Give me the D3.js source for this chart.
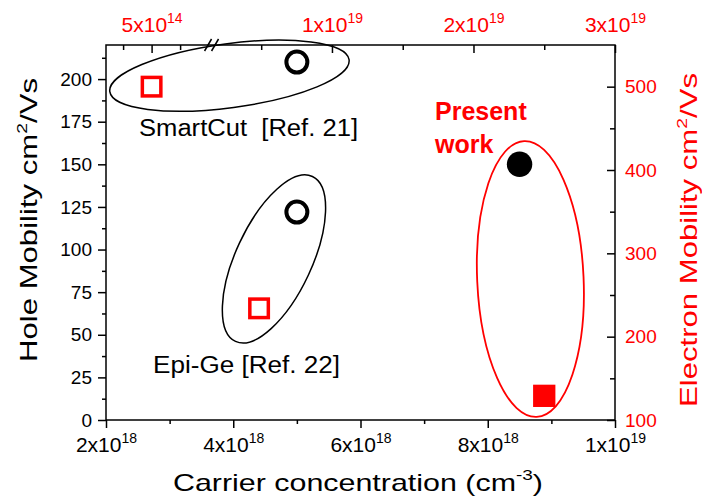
<!DOCTYPE html>
<html>
<head>
<meta charset="utf-8">
<script src="https://cdn.jsdelivr.net/npm/d3@7"></script>
<style>
  body { margin: 0; background: #fff; }
  text { font-family: Arial, "Liberation Sans", sans-serif; }
</style>
</head>
<body>
<script>
// hole data (bottom / left axes), electron data (top / right axes)
var groups = ['SmartCut', 'Epi-Ge', 'Present work'];
var holeConc = [5e18, 5e18, 8.5e18];
var holeMob = [210, 122, 150];
var elecConc = [5e14, 4.85e18, 2.5e19];
var elecMob = [500, 234, 129];
var filled = [false, false, true];

var bottomTicks = [2e18, 4e18, 6e18, 8e18, 1e19];
var bottomMinor = [3e18, 5e18, 7e18, 9e18];
var bottomLabels = [['2x10', '18'], ['4x10', '18'], ['6x10', '18'], ['8x10', '18'], ['1x10', '19']];
var topTicks = [5e14, 1e19, 2e19, 3e19];
var topMinor = [2.5e14, 7.5e14, 5e18, 1.5e19, 2.5e19];
var topLabels = [['5x10', '14'], ['1x10', '19'], ['2x10', '19'], ['3x10', '19']];
var leftTicks = [0, 25, 50, 75, 100, 125, 150, 175, 200];
var leftMinor = [12.5, 37.5, 62.5, 87.5, 112.5, 137.5, 162.5, 187.5, 212.5];
var rightTicks = [100, 200, 300, 400, 500];
var rightMinor = [150, 250, 350, 450];

// group ellipses, centre in bottom/left data units
var ellX = [3.94e18, 4.64e18, 8.67e18];
var ellY = [202, 94.5, 82.7];

var width = 702, height = 503;
var pL = 106, pR = 615, pT = 45, pB = 420;
var red = '#ff0000';

var svg = d3.select('body').append('svg')
    .attr('width', width)
    .attr('height', height);

var x = d3.scaleLinear().domain([2e18, 1e19]).range([pL, pR]);
// broken top axis: a short low-concentration part, then linear to 3x10^19
var xTop = d3.scaleLinear().domain([1e14, 1e15, 1.7e18, 3e19]).range([pL, 208.6, 214.5, pR]);
var yL = d3.scaleLinear().domain([0, 220]).range([pB, pT]);
var yR = d3.scaleLinear().domain([100, 550]).range([pB, pT]);

// frame
svg.append('rect')
    .attr('x', pL).attr('y', pT)
    .attr('width', pR - pL).attr('height', pB - pT)
    .attr('fill', 'none').attr('stroke', '#000').attr('stroke-width', 1.5);

function styleAxis(g) {
    g.select('.domain').remove();
    g.selectAll('.tick line').attr('stroke', '#000').attr('stroke-width', 1.5);
    g.attr('font-family', 'Arial, "Liberation Sans", sans-serif');
}

function supLabels(g, labels, color) {
    g.selectAll('.tick text').each(function (d, i) {
        var t = d3.select(this);
        t.text(labels[i][0]).attr('fill', color).attr('font-size', 21);
        t.append('tspan').attr('dy', -9).attr('font-size', 14).text(labels[i][1]);
    });
}

// bottom axis
var gB = svg.append('g').attr('transform', 'translate(0,' + pB + ')');
gB.call(d3.axisBottom(x).tickValues(bottomMinor).tickSize(4).tickFormat(''));
gB.call(styleAxis);
var gB2 = svg.append('g').attr('transform', 'translate(0,' + pB + ')');
gB2.call(d3.axisBottom(x).tickValues(bottomTicks).tickSize(8).tickSizeOuter(0).tickFormat(function () { return 'x'; }));
gB2.call(styleAxis);
gB2.selectAll('.tick text').attr('y', 32).attr('dy', 0);
supLabels(gB2, bottomLabels, '#000');

// top axis, ticks inward
var gT = svg.append('g').attr('transform', 'translate(0,' + pT + ')');
gT.call(d3.axisTop(xTop).tickValues(topMinor).tickSize(-5).tickFormat(''));
gT.call(styleAxis);
var gT2 = svg.append('g').attr('transform', 'translate(0,' + pT + ')');
gT2.call(d3.axisTop(xTop).tickValues(topTicks).tickSize(-8).tickFormat(function () { return 'x'; }));
gT2.call(styleAxis);
gT2.selectAll('.tick text').attr('y', -13).attr('dy', 0);
supLabels(gT2, topLabels, red);

// axis break marks
var bx = (xTop(1e15) + xTop(1.7e18)) / 2;
[-3.5, 3.5].forEach(function (o) {
    svg.append('line')
        .attr('x1', bx + o - 3.5).attr('y1', pT + 6)
        .attr('x2', bx + o + 3.5).attr('y2', pT - 6)
        .attr('stroke', '#000').attr('stroke-width', 1.5);
});

// left axis
var gL = svg.append('g').attr('transform', 'translate(' + pL + ',0)');
gL.call(d3.axisLeft(yL).tickValues(leftMinor).tickSize(4).tickFormat(''));
gL.call(styleAxis);
var gL2 = svg.append('g').attr('transform', 'translate(' + pL + ',0)');
gL2.call(d3.axisLeft(yL).tickValues(leftTicks).tickSize(8).tickPadding(6).tickFormat(d3.format('d')));
gL2.call(styleAxis);
gL2.selectAll('.tick text').attr('font-size', 19).attr('fill', '#000');

// right axis, ticks inward
var gR = svg.append('g').attr('transform', 'translate(' + pR + ',0)');
gR.call(d3.axisRight(yR).tickValues(rightMinor).tickSize(-5).tickFormat(''));
gR.call(styleAxis);
var gR2 = svg.append('g').attr('transform', 'translate(' + pR + ',0)');
gR2.call(d3.axisRight(yR).tickValues(rightTicks).tickSize(-8).tickPadding(10).tickFormat(d3.format('d')));
gR2.call(styleAxis);
gR2.selectAll('.tick text').attr('font-size', 19).attr('fill', red);

// axis titles
var tl = svg.append('text')
    .attr('transform', 'translate(37,220) rotate(-90)')
    .attr('text-anchor', 'middle').attr('font-size', 24)
    .attr('textLength', 284).attr('lengthAdjust', 'spacingAndGlyphs');
tl.append('tspan').text('Hole Mobility cm');
tl.append('tspan').attr('dy', -10).attr('font-size', 15).text('2');
tl.append('tspan').attr('dy', 10).text('/Vs');

var tr = svg.append('text')
    .attr('transform', 'translate(697,240) rotate(-90)')
    .attr('text-anchor', 'middle').attr('font-size', 24).attr('fill', red)
    .attr('textLength', 334).attr('lengthAdjust', 'spacingAndGlyphs');
tr.append('tspan').text('Electron Mobility cm');
tr.append('tspan').attr('dy', -10).attr('font-size', 15).text('2');
tr.append('tspan').attr('dy', 10).text('/Vs');

var tb = svg.append('text')
    .attr('x', 358).attr('y', 491)
    .attr('text-anchor', 'middle').attr('font-size', 24)
    .attr('textLength', 370).attr('lengthAdjust', 'spacingAndGlyphs');
tb.append('tspan').text('Carrier concentration (cm');
tb.append('tspan').attr('dy', -11).attr('font-size', 15).text('-3');
tb.append('tspan').attr('dy', 11).text(')');

// group ellipses
var ellRx = [120.7, 38, 53.2];
var ellRy = [32, 91, 138];
var ellRot = [-7.6, 25, -2.6];
var ellColor = ['#000', '#000', red];
svg.selectAll('ellipse.grp')
    .data(groups)
    .enter()
    .append('ellipse')
    .attr('class', 'grp')
    .attr('transform', function (d, i) {
        return 'translate(' + x(ellX[i]) + ',' + yL(ellY[i]) + ') rotate(' + ellRot[i] + ')';
    })
    .attr('rx', function (d, i) { return ellRx[i]; })
    .attr('ry', function (d, i) { return ellRy[i]; })
    .attr('fill', 'none')
    .attr('stroke', function (d, i) { return ellColor[i]; })
    .attr('stroke-width', function (d, i) { return i === 2 ? 1.8 : 1.5; });

// hole mobility points: circles
svg.selectAll('circle.hole')
    .data(holeMob)
    .enter()
    .append('circle')
    .attr('class', 'hole')
    .attr('cx', function (d, i) { return x(holeConc[i]); })
    .attr('cy', function (d) { return yL(d); })
    .attr('r', function (d, i) { return filled[i] ? 12.7 : 10.5; })
    .attr('fill', function (d, i) { return filled[i] ? '#000' : 'none'; })
    .attr('stroke', function (d, i) { return filled[i] ? 'none' : '#000'; })
    .attr('stroke-width', 4);

// electron mobility points: squares
svg.selectAll('rect.elec')
    .data(elecMob)
    .enter()
    .append('rect')
    .attr('class', 'elec')
    .attr('x', function (d, i) { var s = filled[i] ? 22.3 : 18.5; return xTop(elecConc[i]) - s / 2; })
    .attr('y', function (d, i) { var s = filled[i] ? 22.3 : 18.5; return yR(d) - s / 2; })
    .attr('width', function (d, i) { return filled[i] ? 22.3 : 18.5; })
    .attr('height', function (d, i) { return filled[i] ? 22.3 : 18.5; })
    .attr('fill', function (d, i) { return filled[i] ? red : 'none'; })
    .attr('stroke', function (d, i) { return filled[i] ? 'none' : red; })
    .attr('stroke-width', 3.5);

// annotations
svg.append('text')
    .attr('x', 139).attr('y', 136)
    .attr('font-size', 23)
    .style('white-space', 'pre')
    .attr('textLength', 219).attr('lengthAdjust', 'spacingAndGlyphs')
    .text('SmartCut  [Ref. 21]');

svg.append('text')
    .attr('x', 153).attr('y', 373)
    .attr('font-size', 23)
    .attr('textLength', 187).attr('lengthAdjust', 'spacingAndGlyphs')
    .text('Epi-Ge [Ref. 22]');

var pw = svg.append('text')
    .attr('font-size', 25).attr('font-weight', 'bold').attr('fill', red);
pw.append('tspan').attr('x', 435).attr('y', 120).text('Present');
pw.append('tspan').attr('x', 435).attr('y', 153).text('work');
</script>
</body>
</html>
